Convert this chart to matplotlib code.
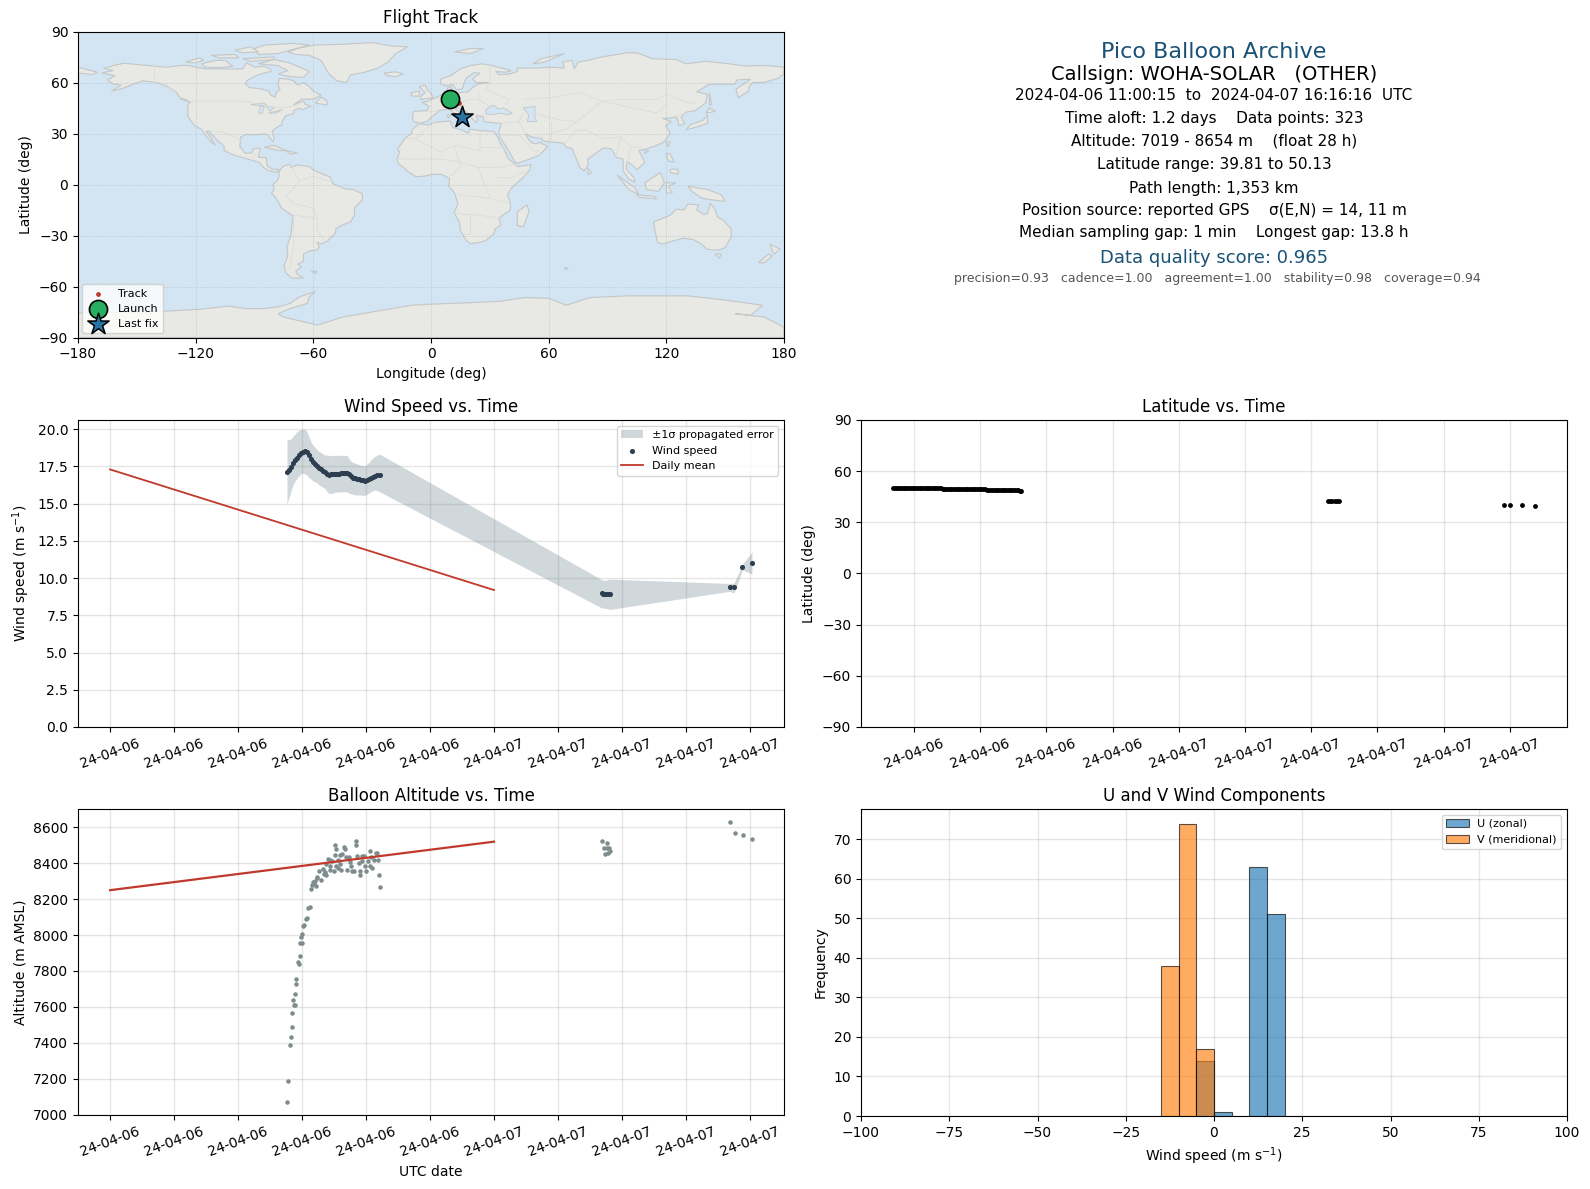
import datetime as dt
import matplotlib
matplotlib.use('Agg')
import matplotlib.pyplot as plt
import matplotlib.dates as mdates

# hours since 2024-04-06 00:00 UTC
wind_hours = [11.06, 11.19, 11.31, 11.44, 11.56, 11.69, 11.81, 11.94, 12.06, 12.19, 12.31, 12.44, 12.56, 12.69, 12.81,
              12.94, 13.06, 13.19, 13.31, 13.44, 13.56, 13.69, 13.81, 13.94, 14.06, 14.19, 14.31, 14.44, 14.56, 14.69,
              14.81, 14.94, 15.06, 15.19, 15.31, 15.44, 15.56, 15.69, 15.81, 15.94, 16.06, 16.19, 16.31, 16.44, 16.56,
              16.69, 16.85,
              30.75, 30.85, 30.96, 31.06, 31.17, 31.27, 38.73, 39.02, 39.54, 40.13]
wind_speed = [17.12, 17.25, 17.48, 17.75, 17.92, 18.08, 18.26, 18.42, 18.50, 18.55, 18.48, 18.24, 17.97, 17.81, 17.66,
              17.52, 17.39, 17.30, 17.21, 17.10, 17.01, 16.94, 16.96, 16.96, 16.99, 17.01, 17.01, 17.03, 17.03, 17.06,
              17.06, 16.99, 16.85, 16.75, 16.70, 16.66, 16.63, 16.60, 16.57, 16.54, 16.60, 16.66, 16.72, 16.78, 16.84,
              16.90, 16.95,
              8.97, 8.96, 8.95, 8.94, 8.93, 8.93, 9.38, 9.38, 10.74, 11.00]
wind_upper = [19.26, 19.31, 19.35, 19.53, 19.67, 19.84, 19.93, 19.98, 20.00, 20.00, 19.82, 19.49, 19.15, 18.93, 18.77,
              18.64, 18.50, 18.44, 18.35, 18.26, 18.28, 18.24, 18.21, 18.24, 18.24, 18.26, 18.24, 18.24, 18.26, 18.24,
              18.24, 18.04, 17.85, 17.78, 17.72, 17.68, 17.62, 17.58, 17.56, 17.54, 17.65, 17.78, 17.95, 18.08, 18.18,
              18.27, 18.33,
              9.89, 9.87, 9.84, 9.88, 9.93, 9.93, 9.64, 9.67, 10.94, 11.74]
wind_lower = [14.96, 15.42, 15.85, 16.25, 16.52, 16.70, 16.88, 17.03, 17.03, 16.99, 16.92, 16.74, 16.65, 16.52, 16.47,
              16.41, 16.25, 16.18, 16.09, 16.03, 15.80, 15.69, 15.69, 15.72, 15.75, 15.78, 15.80, 15.78, 15.80, 15.80,
              15.80, 15.69, 15.66, 15.62, 15.59, 15.58, 15.58, 15.58, 15.56, 15.56, 15.63, 15.72, 15.80, 15.88, 15.92,
              15.88, 15.80,
              7.99, 7.98, 7.97, 7.95, 7.92, 7.90, 9.11, 9.00, 10.56, 10.27]

mean_hours = [0, 24]
mean_wind = [17.3, 9.2]
mean_alt = [8250, 8520]

alt_hours = [11.06, 11.10, 11.23, 11.29, 11.35, 11.35, 11.48, 11.54, 11.42, 11.54, 11.60, 11.60, 11.79, 11.73, 11.85,
             11.85, 11.98, 11.92, 11.98, 12.04, 12.10, 12.23, 12.29, 12.35, 12.48, 12.54, 12.60, 12.73, 12.67, 12.85,
             12.79, 12.96, 12.92, 13.17, 13.06, 13.29, 13.35, 13.48, 13.42, 13.52, 13.60, 13.73, 13.85, 13.73, 13.77,
             13.98, 14.10, 14.04, 14.10, 14.04, 14.23, 14.35, 14.42, 14.27, 14.35, 14.48, 14.60, 14.67, 14.73, 14.92,
             14.79, 14.98, 15.04, 15.10, 15.23, 15.35, 15.35, 15.42, 15.56, 15.60, 15.60, 15.73, 15.85, 15.73, 15.92,
             15.98, 16.10, 16.23, 16.23, 16.35, 16.29, 16.48, 16.60, 16.73, 16.67, 16.79, 16.85,
             30.77, 31.06, 30.88, 31.06, 31.19, 31.25, 31.15, 30.94, 38.75, 39.06, 39.56, 40.13]
alt_m = [7070, 7187, 7387, 7431, 7487, 7565, 7609, 7609, 7637, 7670, 7726, 7754, 7837, 7848, 7881,
         7954, 7954, 7987, 8004, 8048, 8055, 8089, 8093, 8148, 8159, 8254, 8281, 8291, 8296, 8272,
         8300, 8315, 8322, 8307, 8359, 8367, 8341, 8337, 8352, 8393, 8426, 8419, 8415, 8383, 8365,
         8359, 8383, 8448, 8481, 8504, 8374, 8393, 8365, 8419, 8448, 8452, 8493, 8481, 8437, 8435,
         8365, 8406, 8387, 8359, 8359, 8522, 8504, 8441, 8402, 8359, 8337, 8441, 8441, 8411, 8387,
         8359, 8411, 8470, 8387, 8374, 8437, 8420, 8457, 8420, 8457, 8337, 8265,
         8524, 8513, 8487, 8487, 8485, 8470, 8457, 8454, 8628, 8570, 8559, 8537]

lat_hours = [11.06, 11.14, 11.22, 11.30, 11.38, 11.46, 11.54, 11.62, 11.70, 11.78, 11.86, 11.94, 12.02, 12.10, 12.18,
             12.26, 12.34, 12.42, 12.50, 12.58, 12.66, 12.74, 12.82, 12.90, 12.98, 13.06, 13.14, 13.22,
             13.30, 13.38, 13.46, 13.54, 13.62, 13.70, 13.78, 13.86, 13.94, 14.02, 14.10, 14.18, 14.26, 14.34, 14.42,
             14.50, 14.58, 14.66, 14.74, 14.82, 14.90, 14.98, 15.06, 15.14, 15.22,
             15.30, 15.38, 15.46, 15.54, 15.62, 15.70, 15.78, 15.86, 15.94, 16.02, 16.10, 16.18, 16.26, 16.34, 16.42,
             16.50, 16.58, 16.66, 16.74, 16.82, 16.87,
             30.75, 30.85, 30.96, 31.06, 31.17, 31.27, 38.73, 39.02, 39.54, 40.13]
lat_deg = [50.13, 50.13, 50.12, 50.12, 50.12, 50.11, 50.11, 50.11, 50.10, 50.10, 50.10, 50.10, 50.09, 50.09, 50.09,
           50.08, 50.08, 50.08, 50.07, 50.07, 50.07, 50.06, 50.06, 50.06, 50.05, 50.05, 50.05, 50.04,
           49.65, 49.64, 49.63, 49.63, 49.62, 49.61, 49.61, 49.60, 49.59, 49.59, 49.58, 49.57, 49.57, 49.56, 49.55,
           49.55, 49.54, 49.53, 49.53, 49.52, 49.51, 49.51, 49.50, 49.49, 49.49,
           49.08, 49.07, 49.07, 49.06, 49.06, 49.05, 49.05, 49.04, 49.04, 49.03, 49.03, 49.02, 49.02, 49.01, 49.01,
           49.00, 48.98, 48.95, 48.85, 48.60, 48.35,
           42.35, 42.33, 42.32, 42.30, 42.29, 42.28, 40.02, 40.00, 39.90, 39.81]

track_lon = [9.5, 11.0, 12.5, 14.1, 15.5]
track_lat = [50.13, 50.0, 49.5, 48.2, 39.81]
launch_lon, launch_lat = 9.5, 50.13
last_lon, last_lat = 15.8, 39.81

hist_left = [-5, 0, 10, 15]
hist_u = [14, 1, 63, 51]
hist_v_left = [-15, -10, -5]
hist_v = [38, 74, 17]

land_shapes = [
    # North America
    [(-168,65.6),(-162,67),(-166.8,68.3),(-161,70.3),(-156.5,71.3),(-148,70.4),(-141,69.6),(-135,69),(-128,70),(-124,70),
     (-115,68),(-108,68),(-102,68),(-96,68),(-94,71.5),(-90,69),(-85,69.5),(-82,68),(-81.5,66.5),(-87,65),(-90,63.5),
     (-94,61),(-94.5,59),(-92.5,57),(-88,56.5),(-82.5,55),(-82,52.9),(-79.5,51.3),(-79,54),(-77,56),(-78,58.7),(-77.5,62.4),
     (-73,62),(-70,61),(-68,58.5),(-65,60),(-62,57.5),(-60,55),(-56,52.5),(-60,50.2),(-66,50.2),(-70,47),(-65,49),(-64,47),
     (-61,46),(-66,44),(-67,45),(-70,43.5),(-70,41.7),(-74,40.5),(-76,37),(-76,35),(-78,34),(-81,31.5),(-80,27),(-80.5,25.2),
     (-82,27),(-83,29),(-85,29.7),(-90,29.2),(-94,29.5),(-97,28),(-97.5,22.5),(-95,18.5),(-91.5,18.5),(-90.5,21),(-87,21.5),
     (-88,16),(-84,15.8),(-83.5,11),(-81,9),(-77.5,8.7),(-78,7.5),(-80,7.3),(-83,8.3),(-85.5,10),(-87.5,13),(-92,14.5),
     (-96,15.8),(-101,17.5),(-105.5,20),(-105.5,22.5),(-109,26),(-113,31),(-114.7,31.5),(-112,27),(-110,23),(-112,25),
     (-115,29),(-117,32.5),(-120.5,34.5),(-124,40),(-124,47),(-122.5,48.5),(-128,51),(-130,54.5),(-135,58),(-140,60),
     (-147,61),(-152,59),(-156,57),(-163,54.8),(-158,58.5),(-162,59),(-165,61.5),(-161,64)],
    # Greenland and the Arctic islands
    [(-73,78),(-68,80),(-60,82),(-45,82.5),(-30,83.5),(-20,81.5),(-12,81),(-18,77),(-22,72),(-27,68.5),(-34,66),(-41,64.5),
     (-43,60),(-48,61),(-52,65),(-54,69),(-56,73),(-62,76),(-69,76.5)],
    [(-80,73.5),(-72,71.5),(-67,69),(-62,66.5),(-65,63),(-72,63.5),(-78,65),(-73,67),(-78,70),(-88,71)],
    [(-117,71),(-110,73),(-105,73),(-101,69.5),(-108,68.8),(-115,69)],
    [(-90,80),(-85,82),(-70,83),(-62,82),(-72,79),(-78,77),(-88,76.5)],
    [(-125,72),(-118,74.5),(-116,73),(-120,71.5)],
    [(-112,76),(-100,76.5),(-98,74.5),(-108,74.5)],
    [(-96,74),(-80,75),(-80,73.5),(-92,72.5)],
    [(-100,79),(-92,81),(-88,78),(-96,77.5)],
    [(-59,47.8),(-53,46.8),(-53,49),(-56,51.5)],
    [(-128,50.5),(-123.5,48.5),(-125,50)],
    # South America
    [(-77,8.5),(-75,11),(-72,12),(-71.5,10),(-68,11.5),(-62,10.5),(-60,8.5),(-55,6),(-51.5,4.5),(-50,0.5),(-44,-2.5),
     (-39.5,-3),(-35,-5.5),(-35,-9),(-39,-14),(-39,-18),(-41,-22),(-45,-23.7),(-48.5,-26),(-48.7,-28.5),(-53,-33.5),(-56,-35),
     (-58,-34),(-57,-36.5),(-58,-38.5),(-62,-39),(-65,-41),(-65,-45),(-68,-47),(-66,-48.5),(-69,-51),(-68,-53),(-65,-55),
     (-71,-55),(-74,-52),(-75,-48),(-73,-42),(-73.5,-37),(-71.5,-30),(-70.3,-18.5),(-76,-14),(-79,-8),(-81.3,-5),(-80,-3),
     (-80.5,0),(-78.5,2),(-77.5,4.5),(-77.5,7)],
    # Africa
    [(-6,35.8),(-2,35),(3,36.8),(10,37.3),(11,33.5),(15,32.3),(19,30.3),(20,32.5),(25,31.7),(32,31.2),(34,28),(35.5,24),
     (37.5,20),(39.5,15),(43.2,11.7),(44.5,10.5),(51,11.8),(50,8),(46,3),(41,-2),(39,-6),(40.5,-11),(40.5,-15),(36,-18.5),
     (34.8,-20),(35.5,-24),(32.8,-26),(32,-29),(28,-33),(25,-34),(20,-34.8),(18,-33),(15,-27),(14.5,-22),(11.8,-17),
     (13.7,-11),(12,-5),(9,-1),(9.5,3.5),(8,4.5),(5,6),(1,6),(-3,5),(-7.5,4.5),(-11,7),(-13.5,9.5),(-16.8,12.5),(-17.3,15),
     (-16,19),(-17,21),(-13,27.5),(-10,30),(-9.5,32.5)],
    # Eurasia
    [(-9,37),(-9.5,39),(-9,43),(-2,43.5),(-1,46),(-4.5,48.3),(-1.5,49),(2,51),(4,52),(8,53.8),(8.5,57),(10.5,57.5),(10,54.5),
     (14,54),(19,54.5),(21,57),(24,59),(29.5,60),(23,60),(21,62),(25,65.5),(22,65.8),(18,62.5),(17,60),(16,56.5),(13,55.5),
     (11,59),(8,58),(5,59),(5,62),(10,64),(15,68),(20,70),(26,71),(31,70),(41,67),(38,66),(33,66.5),(35,64.5),(40,65),
     (44,66.5),(44,68.5),(54,68.5),(60,69),(68,68.5),(67,72),(72,73),(73,68),(75,72),(80,73),(87,75),(100,77.5),(105,77.5),
     (113,74),(125,73.5),(130,71),(140,72.5),(152,71),(160,69.7),(170,70),(180,69),(180,65),(177,62.5),(170,60),(164,60),
     (162,57),(162,55),(156.7,51),(155.5,56),(163,62),(156,61.5),(155,59),(142,59),(135.5,54.5),(141,53),(140,48),(135,43.5),
     (130,42.5),(127.5,39.5),(129.5,36),(126.5,34.5),(126,37.5),(125,39.7),(121.5,39),(118,39),(122.5,37),(119.5,34.5),
     (122,30.5),(119,25),(114,22.5),(110,21),(106,20),(109,13),(105,8.7),(103,11),(100,13.5),(99.5,9),(103.5,4),(104,1.4),
     (101,3),(98,8),(98,15),(94.5,16),(92,21),(88,21.5),(86,20),(80,15),(80,11),(78,8),(76,10),(73,18),(72,21),(69,22),
     (67,24.5),(61,25),(57,25.7),(56.5,27),(51,28),(48,30),(50,26),(51.5,25),(51,24.5),(54,24),(56,25),(56.5,24),(59.7,22.5),
     (55,17),(45,12.7),(43,13),(39,21),(35,28),(34.5,31),(36,36),(30,36.5),(27,37),(26.5,40),(23,40.5),(24,38),(22.8,36.5),
     (20,40),(19,42),(13.5,45.5),(12.5,44),(16,41.5),(18.5,40),(16,38),(12,42),(9,44.3),(4,43.5),(3,42),(0,39.5),(-2,37),
     (-5.5,36)],
    [(-180,69),(-175,67.5),(-170,66),(-173,64.5),(-178,65.5),(-180,65)],
    # Australia and Antarctica
    [(113.5,-22),(114,-26),(115.5,-34),(118,-35),(124,-33),(129,-31.5),(134,-32.5),(138,-35),(140.5,-38),(144,-38.5),
     (147,-38.5),(150,-37),(153,-31),(153,-26),(149,-21),(146,-19),(145,-15),(142.5,-11),(141,-17),(139,-17.5),(135.5,-15),
     (136.5,-12),(131,-11.5),(129,-15),(125,-14.5),(122,-18),(117,-20.5)],
    [(-180,-75.5),(-150,-75),(-135,-74.5),(-118,-73.4),(-103,-71.5),(-95,-73),(-85,-73),(-78,-72),(-72,-70),(-67,-66),
     (-59,-63),(-62,-66),(-63,-70),(-72,-73),(-78,-76),(-75,-78),(-58,-82.7),(-45,-78),(-35,-76),(-20,-73),(-10,-71),
     (0,-70.4),(20,-69.5),(35,-68.7),(48,-66.5),(60,-67),(69,-71),(81,-66.5),(100,-65.5),(131,-65.5),(150,-68),(169,-71),
     (163,-77),(155,-76),(170,-78),(180,-84),(180,-90),(-180,-90)],
    # smaller islands
    [(-5.5,50),(1,51),(0,53.5),(-2,56),(-3,58.5),(-6,57.5),(-3,54),(-5,52)],
    [(-10,52),(-6,52),(-6,55),(-10,54)],
    [(-24,65.5),(-18,66.3),(-14,65),(-18,63.5),(-22,64)],
    [(44,-16),(49,-12),(50,-16),(47,-25),(44,-24)],
    [(130,32),(136,34),(141,36),(141,41),(139,38),(132,35)],
    [(140,42),(145,43),(142,45)],
    [(142,54),(143,47),(142,47)],
    [(95,5.5),(104,-2),(106,-6),(101,-3)],
    [(105,-6),(114,-7),(115,-8.5),(106,-7.5)],
    [(109,1),(117,7),(119,1),(116,-4),(110,-3)],
    [(120,1),(125,1),(121,-1),(123,-5),(120,-5)],
    [(131,-1),(141,-3),(148,-6),(150,-10),(143,-9),(138,-8),(133,-4)],
    [(120,18),(122,18),(124,13),(121,14)],
    [(122,9),(126,9),(126,6),(122,7)],
    [(173,-35),(178,-38),(175,-41),(174,-39)],
    [(172,-41),(174,-42),(170,-46),(167,-46)],
    [(-85,22),(-80,23),(-74,20),(-78,20)],
    [(-74,20),(-68,18.5),(-72,18)],
    [(145,-41),(148,-41),(147,-43.5)],
    [(80,9.5),(82,7),(80,6)],
    [(52,71),(56,74),(68,77),(58,72)],
    [(12,78),(20,80),(27,80),(20,77)],
    [(8,41),(10,41),(9,39)],
    [(12.5,38),(15.5,38),(15,36.7)],
    [(-61,-51),(-58,-51),(-59,-52.3)],
    [(120,25),(122,25),(121,22)],
    [(109,20),(111,20),(109,18)],
    [(68,-49),(70,-49),(69,-50)],
]
lake_shapes = [
    [(28,41.5),(28,44),(31,46.5),(33,46),(34,44.5),(37,45),(41.5,42),(39,41),(35,42),(31,41)],
    [(47,45),(53,46),(53,39),(54,37),(49,37),(50,41)],
    [(-92,47),(-85,48),(-84,46.5),(-88,46.5)],
    [(-88,42),(-87,46),(-85,46),(-86,42)],
    [(-84,46),(-80,45.5),(-82,43)],
    [(-83,42),(-79,43),(-76,44),(-79,42)],
]
border_lines = [
    [(-141,70),(-141,60),(-130,55)],
    [(-123,49),(-95,49),(-83,46),(-75,45),(-67,47)],
    [(-117,32),(-106,31),(-97,26)],
    [(-92,14),(-89,18)],
    [(-70,-18),(-58,-20),(-58,-27),(-54,-34)],
    [(-72,12),(-67,2),(-74,-7),(-70,-11),(-60,-14),(-58,-20)],
    [(-70,-18),(-70,-35),(-72,-50)],
    [(-52,2),(-60,5),(-67,2)],
    [(2,37),(-8,27),(-13,27)],
    [(-8,27),(5,19),(12,23),(25,20),(25,32)],
    [(25,22),(37,22)],
    [(12,23),(15,10),(9,4)],
    [(-17,15),(5,15),(15,13),(24,10),(35,10),(43,12)],
    [(24,10),(30,-8),(13,-6)],
    [(30,-8),(40,-11)],
    [(12,-17),(25,-18),(35,-20)],
    [(20,-18),(20,-29),(17,-29)],
    [(34,4),(41,4),(48,8)],
    [(-2,43),(3,43)],
    [(2,51),(8,49),(7,54)],
    [(8,47),(14,48),(19,50),(24,50),(30,46)],
    [(14,54),(14,48),(13,46)],
    [(24,55),(24,50)],
    [(28,56),(40,50),(38,47)],
    [(30,70),(30,60),(28,56)],
    [(47,42),(45,37),(36,36)],
    [(45,37),(48,30)],
    [(35,29),(45,29),(52,20),(55,20),(52,16)],
    [(61,37),(61,25)],
    [(47,50),(60,51),(77,54),(87,49),(96,50),(115,50),(120,53),(131,48),(135,48)],
    [(52,42),(66,38),(74,37),(80,42),(87,49)],
    [(61,30),(70,33),(74,37)],
    [(68,24),(74,32),(79,32),(88,27),(97,28),(94,16)],
    [(97,28),(102,22),(108,22)],
    [(102,22),(100,13)],
    [(124,40),(130,42)],
    [(87,49),(115,42),(120,47)],
]

WATER = '#d3e5f2'
LAND = '#e8e8e4'
COAST = '#c3c7c8'
BORDER = '#dcdcd8'
GRID_COLOUR = '#b0b0b0'
NAVY = '#2c3e50'
STONE = '#7f8c8d'
BAND = '#6f8690'
RED = '#c0392b'
TITLE_BLUE = '#1a5276'

FIG_W, FIG_H = 1590, 1189


def panel(fig, left, top, right, bottom):
    return fig.add_axes([left / FIG_W, 1 - bottom / FIG_H, (right - left) / FIG_W, (bottom - top) / FIG_H])


def to_dates(hours):
    start = dt.datetime(2024, 4, 6)
    return [start + dt.timedelta(hours=h) for h in hours]


def date_axis(ax, step):
    ax.xaxis.set_major_locator(mdates.HourLocator(byhour=range(0, 24, step)))
    ax.xaxis.set_major_formatter(mdates.DateFormatter('%y-%m-%d'))
    ax.tick_params(axis='x', labelrotation=20)


def light_grid(ax):
    ax.grid(True, color=GRID_COLOUR, linewidth=1, alpha=0.33)
    ax.set_axisbelow(True)


fig = plt.figure(figsize=(15.9, 11.89), dpi=100)

# flight track
ax = panel(fig, 78, 31.5, 784, 337.5)
ax.set_facecolor(WATER)
for shape in land_shapes:
    ax.fill(*zip(*shape), facecolor=LAND, edgecolor=COAST, linewidth=0.8, zorder=1)
for shape in lake_shapes:
    ax.fill(*zip(*shape), facecolor=WATER, edgecolor=COAST, linewidth=0.6, zorder=1.1)
for line in border_lines:
    ax.plot(*zip(*line), color=BORDER, linewidth=0.6, zorder=1.2)
ax.scatter(track_lon, track_lat, s=6, color=RED, zorder=3, label='Track')
ax.scatter([launch_lon], [launch_lat], s=170, color='#27ae60', edgecolor='black', linewidth=1.2, zorder=4, label='Launch')
ax.scatter([last_lon], [last_lat], s=260, marker='*', color='#2874a6', edgecolor='black', linewidth=1.1, zorder=5, label='Last fix')
ax.set_xlim(-180, 180)
ax.set_ylim(-90, 90)
ax.set_xticks(range(-180, 181, 60))
ax.set_yticks(range(-90, 91, 30))
ax.grid(True, color='#a9b4bb', linestyle=':', linewidth=0.6, alpha=0.7)
ax.set_axisbelow(False)
# the outer gridlines would only speckle the frame
for edge_line in [ax.get_xgridlines()[0], ax.get_xgridlines()[-1], ax.get_ygridlines()[0], ax.get_ygridlines()[-1]]:
    edge_line.set_visible(False)
ax.set_xlabel('Longitude (deg)')
ax.set_ylabel('Latitude (deg)')
ax.set_title('Flight Track')
ax.legend(loc='lower left', fontsize=8, borderaxespad=0.4, labelspacing=0.45)

# summary text
ax = panel(fig, 861, 31.5, 1567, 337.5)
ax.axis('off')
summary = [
    (51.5, 'Pico Balloon Archive', 16, TITLE_BLUE, 0.5),
    (74, 'Callsign: WOHA-SOLAR   (OTHER)', 14, 'black', 0.5),
    (95, '2024-04-06 11:00:15  to  2024-04-07 16:16:16  UTC', 11, 'black', 0.5),
    (118, 'Time aloft: 1.2 days    Data points: 323', 11, 'black', 0.5),
    (141, 'Altitude: 7019 - 8654 m    (float 28 h)', 11, 'black', 0.5),
    (164, 'Latitude range: 39.81 to 50.13', 11, 'black', 0.5),
    (188, 'Path length: 1,353 km', 11, 'black', 0.5),
    (210, 'Position source: reported GPS    σ(E,N) = 14, 11 m', 11, 'black', 0.5),
    (233, 'Median sampling gap: 1 min    Longest gap: 13.8 h', 11, 'black', 0.5),
    (258, 'Data quality score: 0.965', 13, TITLE_BLUE, 0.5),
    (278.5, 'precision=0.93   cadence=1.00   agreement=1.00   stability=0.98   coverage=0.94', 9, '#555555', 0.5043),
]
for y_px, line, size, colour, x_frac in summary:
    ax.text(x_frac, 1 - (y_px - 31.5) / 306, line, ha='center', va='center', fontsize=size, color=colour, transform=ax.transAxes)

# wind speed
ax = panel(fig, 78, 420, 784, 727)
ax.fill_between(to_dates(wind_hours), wind_lower, wind_upper, color=BAND, alpha=0.32, linewidth=0, label='±1σ propagated error')
ax.scatter(to_dates(wind_hours), wind_speed, s=7, color=NAVY, zorder=3, label='Wind speed')
ax.plot(to_dates(mean_hours), mean_wind, color=RED, linewidth=1.3, label='Daily mean')
ax.set_ylim(0, 20.62)
date_axis(ax, 4)
light_grid(ax)
ax.set_ylabel('Wind speed (m s$^{-1}$)')
ax.set_title('Wind Speed vs. Time')
ax.legend(loc='upper right', fontsize=8)

# latitude
ax = panel(fig, 861, 420, 1567, 727)
ax.scatter(to_dates(lat_hours), lat_deg, s=6, color='black', zorder=3)
ax.set_ylim(-90, 90)
ax.set_yticks(range(-90, 91, 30))
date_axis(ax, 3)
light_grid(ax)
ax.set_ylabel('Latitude (deg)')
ax.set_title('Latitude vs. Time')

# altitude
ax = panel(fig, 78, 809, 784, 1115)
ax.scatter(to_dates(alt_hours), alt_m, s=5, color=STONE, zorder=3)
ax.plot(to_dates(mean_hours), mean_alt, color=RED, linewidth=1.6, zorder=4)
ax.set_ylim(6998, 8702)
date_axis(ax, 4)
light_grid(ax)
ax.set_xlabel('UTC date')
ax.set_ylabel('Altitude (m AMSL)')
ax.set_title('Balloon Altitude vs. Time')

# U and V histogram
ax = panel(fig, 861, 809, 1567, 1116)
ax.bar(hist_left, hist_u, width=5, align='edge', color='#1f77b4', alpha=0.65, edgecolor='black', linewidth=0.8, label='U (zonal)', zorder=3)
ax.bar(hist_v_left, hist_v, width=5, align='edge', color='#ff7f0e', alpha=0.65, edgecolor='black', linewidth=0.8, label='V (meridional)', zorder=3)
ax.set_xlim(-100, 100)
ax.set_ylim(0, 77.7)
light_grid(ax)
ax.set_xlabel('Wind speed (m s$^{-1}$)')
ax.set_ylabel('Frequency')
ax.set_title('U and V Wind Components')
ax.legend(loc='upper right', fontsize=8)

fig.savefig('out.png', dpi=100)
